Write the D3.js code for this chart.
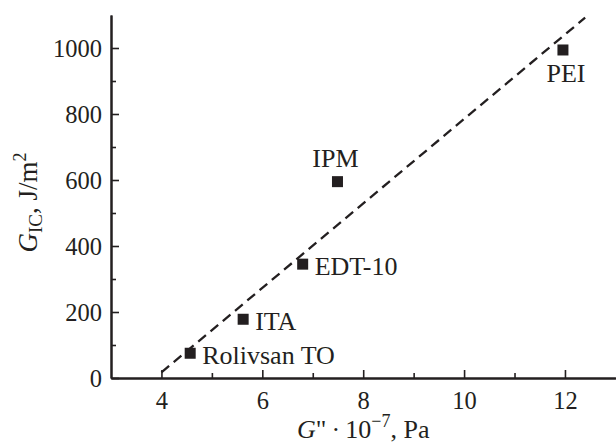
<!DOCTYPE html>
<html><head><meta charset="utf-8">
<script src="https://cdn.jsdelivr.net/npm/d3@7"></script>
<style>html,body{margin:0;padding:0;background:#fff;}svg{display:block;}</style>
</head><body>
<svg id="chart" width="616" height="446"></svg>
<script>
const labels = ["Rolivsan TO", "ITA", "EDT-10", "IPM", "PEI"];
const xValues = [4.57, 5.62, 6.80, 7.49, 11.96];
const yValues = [75, 178, 345, 595, 994];
const fitX = [4.0, 12.4];
const fitY = [17, 1092];
const xTicks = [4, 6, 8, 10, 12];
const xMinorTicks = [5, 7, 9, 11];
const yTicks = [0, 200, 400, 600, 800, 1000];
const yMinorTicks = [100, 300, 500, 700, 900];

const ink = "#231f20";
const font = "'Liberation Serif', 'DejaVu Serif', serif";
const svg = d3.select("#chart");
const x = d3.scaleLinear().domain([3, 13]).range([111, 615.4]);
const y = d3.scaleLinear().domain([0, 1100]).range([378, 15]);

// axes
const gx = svg.append("g").attr("transform", `translate(0,${y(0)})`);
gx.call(d3.axisBottom(x).tickValues(xTicks).tickSizeInner(-8).tickSizeOuter(0).tickPadding(15).tickFormat(d3.format("d")));
gx.append("g").call(d3.axisBottom(x).tickValues(xMinorTicks).tickSizeInner(-5).tickSizeOuter(0).tickFormat(""));
const gy = svg.append("g").attr("transform", `translate(${x(3)},0)`);
gy.call(d3.axisLeft(y).tickValues(yTicks).tickSizeInner(-8).tickSizeOuter(0).tickPadding(9).tickFormat(d3.format("d")));
gy.append("g").call(d3.axisLeft(y).tickValues(yMinorTicks).tickSizeInner(-5).tickSizeOuter(0).tickFormat(""));
svg.selectAll("g").attr("font-family", null);
svg.selectAll(".domain").attr("stroke", ink).attr("stroke-width", 2);
svg.selectAll(".tick line").attr("stroke", ink).attr("stroke-width", 1.6);
svg.selectAll(".tick text").attr("fill", ink).style("font-family", font).style("font-size", "24.5px");
gx.selectAll(".tick text").attr("dy", "0.66em");
gy.selectAll(".tick text").attr("dy", "0.33em");

// fit line
svg.append("path")
  .datum(fitX.map((v, i) => [v, fitY[i]]))
  .attr("d", d3.line().x(d => x(d[0])).y(d => y(d[1])))
  .attr("fill", "none").attr("stroke", ink).attr("stroke-width", 2.3)
  .attr("stroke-dasharray", "10,6");

// points
const pts = labels.map((l, i) => ({label: l, x: xValues[i], y: yValues[i]}));
const ms = 11;
svg.selectAll("rect.pt").data(pts).join("rect").attr("class", "pt")
  .attr("x", d => x(d.x) - ms / 2).attr("y", d => y(d.y) - ms / 2)
  .attr("width", ms).attr("height", ms).attr("fill", ink);

function place(d) {
  if (d.label === "IPM") return {dx: -2, dy: -15, anchor: "middle"};
  if (d.label === "PEI") return {dx: 3, dy: 32, anchor: "middle"};
  return {dx: 12, dy: 11, anchor: "start"};
}
svg.selectAll("text.lbl").data(pts).join("text").attr("class", "lbl")
  .attr("x", d => x(d.x) + place(d).dx).attr("y", d => y(d.y) + place(d).dy)
  .attr("text-anchor", d => place(d).anchor)
  .attr("fill", ink).style("font-family", font).style("font-size", "26px")
  .text(d => d.label);

// x title
const xt = svg.append("text").attr("x", (x(3) + x(13)) / 2).attr("y", 438)
  .attr("text-anchor", "middle").attr("fill", ink)
  .style("font-family", font).style("font-size", "26px");
xt.append("tspan").style("font-style", "italic").text("G");
xt.append("tspan").text("\"\u2009·\u200910");
xt.append("tspan").attr("dy", -11).style("font-size", "18px").text("\u22127");
xt.append("tspan").attr("dy", 11).text(", Pa");

// y title
const yt = svg.append("text")
  .attr("transform", `translate(37,${(y(0) + y(1100)) / 2 + 6}) rotate(-90)`)
  .attr("text-anchor", "middle").attr("fill", ink)
  .style("font-family", font).style("font-size", "27px");
yt.append("tspan").style("font-style", "italic").text("G");
yt.append("tspan").attr("dy", 5).style("font-size", "19px").text("IC");
yt.append("tspan").attr("dy", -5).text(", J/m");
yt.append("tspan").attr("dy", -11).style("font-size", "18px").text("2");
</script>
</body></html>
